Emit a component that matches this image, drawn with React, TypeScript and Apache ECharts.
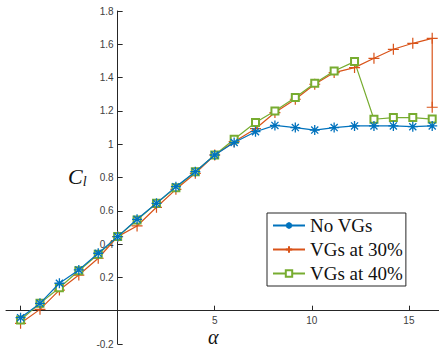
import React, { useEffect, useRef } from "react";
import * as echarts from "echarts";

// Angle of attack (deg) at which the lift coefficient was measured
const alpha = [-5, -4, -3, -2, -1, 0, 1, 2, 3, 4, 5, 6, 7.1, 8.1, 9.15, 10.15, 11.15, 12.2, 13.2, 14.2, 15.2, 16.2];

// Lift coefficient for each configuration
const clNoVG = [-0.042, 0.044, 0.165, 0.245, 0.345, 0.445, 0.549, 0.645, 0.745, 0.835, 0.935, 1.01, 1.075, 1.113, 1.1, 1.085, 1.1, 1.11, 1.11, 1.11, 1.105, 1.11];
const clVG30 = [-0.076, 0.008, 0.124, 0.214, 0.315, 0.445, 0.509, 0.621, 0.729, 0.825, 0.935, 1.015, 1.093, 1.19, 1.27, 1.36, 1.43, 1.46, 1.516, 1.57, 1.606, 1.636];
// Stall drop recorded at the last angle for the 30% case
const clVG30Stall = { alpha: 16.2, cl: 1.222 };
const clVG40 = [-0.056, 0.044, 0.138, 0.24, 0.339, 0.445, 0.545, 0.645, 0.739, 0.835, 0.935, 1.03, 1.13, 1.2, 1.28, 1.366, 1.44, 1.496, 1.15, 1.16, 1.16, 1.151];

const seriesNames = ["No VGs", "VGs at 30%", "VGs at 40%"];

// Axis ticks and labels
const xTicks = [-5, 0, 5, 10, 15];
const xTickLabels = [-5, 5, 10, 15];
const yTickLabels = [-0.2, 0.2, 0.4, 0.6, 0.8, 1, 1.2, 1.4, 1.6, 1.8];

const BLUE = "#0072BD";
const RED = "#D95319";
const GREEN = "#77AC30";

const asterisk = "path://M-5,0L5,0M0,-5L0,5M-3.54,-3.54L3.54,3.54M-3.54,3.54L3.54,-3.54";
const plus = "path://M-5,0L5,0M0,-5L0,5";

const GRID = { left: 6, right: 0, top: 11, bottom: 4 };

export default function App() {
  const ref = useRef<HTMLDivElement>(null);

  useEffect(() => {
    if (!ref.current) return;
    const chart = echarts.init(ref.current, undefined, { renderer: "svg" });

    const pair = (ys: number[]) => ys.map((y, i) => [alpha[i], y]);
    const red = [...pair(clVG30), [clVG30Stall.alpha, clVG30Stall.cl]];

    const axisLineStyle = { color: "#262626", width: 1 };
    const tickLabel = { color: "#404040", fontSize: 10, fontFamily: "Liberation Sans" };

    chart.setOption({
      animation: false,
      backgroundColor: "#ffffff",
      grid: { ...GRID, containLabel: false, outerBoundsMode: "none" },
      xAxis: {
        type: "value",
        position: "bottom",
        min: -5.75,
        max: 16.55,
        splitLine: { show: false },
        axisLine: { show: true, onZero: false, lineStyle: axisLineStyle },
        axisTick: { show: true, inside: true, length: 5, customValues: xTicks, lineStyle: axisLineStyle },
        axisLabel: { ...tickLabel, margin: 5, customValues: xTickLabels },
      },
      yAxis: {
        type: "value",
        position: "left",
        min: -0.2,
        max: 1.8,
        interval: 0.2,
        splitLine: { show: false },
        axisLine: { show: true, onZero: false, lineStyle: axisLineStyle },
        axisTick: { show: true, inside: true, length: 5, lineStyle: axisLineStyle },
        axisLabel: { ...tickLabel, margin: 4, customValues: yTickLabels },
      },
      legend: {
        left: 267,
        top: 213,
        orient: "vertical",
        backgroundColor: "#ffffff",
        borderColor: "#262626",
        borderWidth: 1,
        padding: [3, 3, 3, 5],
        itemGap: 5,
        itemWidth: 32,
        itemHeight: 8,
        textStyle: { fontFamily: "Liberation Serif", fontSize: 19, lineHeight: 18, color: "#111" },
        data: seriesNames,
      },
      series: [
        {
          name: seriesNames[0],
          type: "line",
          data: pair(clNoVG),
          symbol: asterisk,
          symbolSize: 10,
          symbolKeepAspect: true,
          lineStyle: { color: BLUE, width: 1.2 },
          itemStyle: { color: BLUE, borderColor: BLUE, borderWidth: 1.3 },
          z: 3,
        },
        {
          name: seriesNames[1],
          type: "line",
          data: red,
          symbol: plus,
          symbolSize: 11,
          symbolKeepAspect: true,
          lineStyle: { color: RED, width: 1.2 },
          itemStyle: { color: RED, borderColor: RED, borderWidth: 1.2 },
          z: 2,
        },
        {
          name: seriesNames[2],
          type: "line",
          data: pair(clVG40),
          symbol: "emptyRect",
          symbolSize: 7,
          lineStyle: { color: GREEN, width: 1.2 },
          itemStyle: { color: GREEN, borderColor: GREEN, borderWidth: 1.2 },
          z: 2,
        },
      ],
      graphic: [
        {
          type: "text",
          left: 68,
          top: 165,
          style: {
            text: "{c|C}{l|l}",
            rich: {
              c: { fontFamily: "Liberation Serif", fontStyle: "italic", fontSize: 22, fill: "#111" },
              l: { fontFamily: "Liberation Serif", fontStyle: "italic", fontSize: 14, fill: "#111", padding: [10, 0, 0, 0] },
            },
          },
        },
        {
          type: "text",
          left: 208,
          top: 327,
          style: { text: "α", fontFamily: "Liberation Serif", fontStyle: "italic", fontSize: 20, fill: "#111" },
        },
      ],
    });

    // Move both axes so they cross at the origin, like a MATLAB "origin" axis location.
    const origin = chart.convertToPixel({ gridIndex: 0 }, [0, 0]) as number[];
    const width = chart.getWidth();
    const height = chart.getHeight();
    chart.setOption({
      xAxis: { offset: -(height - GRID.bottom - origin[1]) },
      yAxis: { offset: -(origin[0] - GRID.left) },
    });
    void width;

    return () => chart.dispose();
  }, []);

  return (
    <div
      ref={ref}
      style={{ position: "fixed", left: 0, top: 0, width: 439, height: 348, background: "#fff" }}
    />
  );
}
